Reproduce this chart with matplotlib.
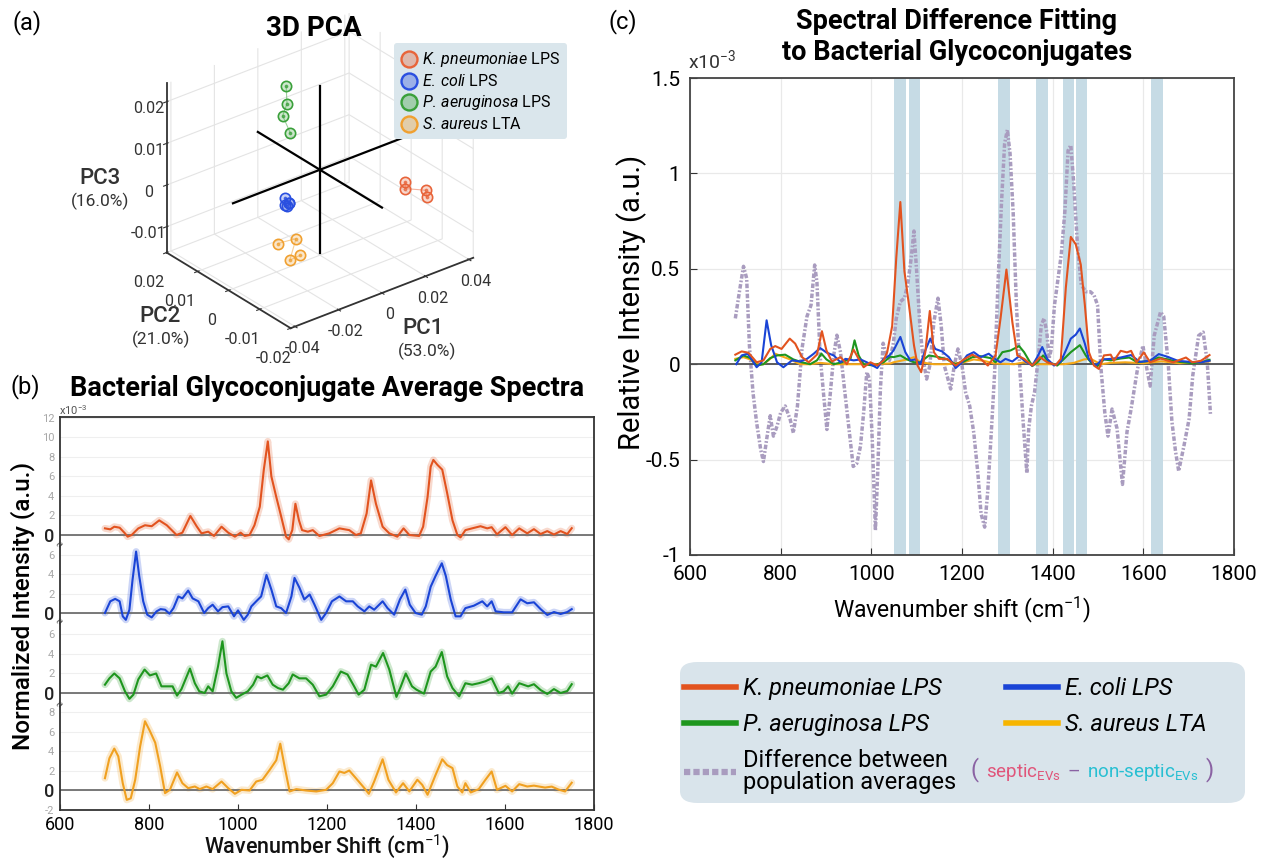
import matplotlib
matplotlib.use('Agg')
import matplotlib.pyplot as plt
import numpy as np
from matplotlib.lines import Line2D
from matplotlib.colors import to_rgba
from matplotlib.ticker import FuncFormatter
from matplotlib.patches import FancyBboxPatch
from matplotlib.offsetbox import TextArea, HPacker, AnchoredOffsetbox

plt.rcParams['font.family'] = ['Roboto', 'DejaVu Sans']
plt.rcParams['axes.unicode_minus'] = False
plt.rcParams['mathtext.fontset'] = 'custom'
plt.rcParams['mathtext.rm'] = 'Roboto'
plt.rcParams['mathtext.it'] = 'Roboto:italic'
plt.rcParams['mathtext.bf'] = 'Roboto:bold'

W, H = 1263, 858


def fx(x):
    return x / W


def fy(y):
    return 1 - y / H


# ---------------- data: (a) 3D PCA scores ----------------
species = ['K. pneumoniae', 'E. coli', 'P. aeruginosa', 'S. aureus']
suffix = ['LPS', 'LPS', 'LPS', 'LTA']
pca_pc1 = [[0.025, 0.025, 0.0344, 0.0348],
           [-0.0085, -0.0075, -0.008, -0.009, -0.0078],
           [-0.0084, -0.008, -0.010, -0.0065],
           [-0.0265, -0.0181, -0.021, -0.0163]]
pca_pc2 = [[-0.010, -0.010, -0.010, -0.010],
           [0.004, 0.006, 0.005, 0.005, 0.0045],
           [0.005, 0.005, 0.005, 0.005],
           [-0.005, -0.005, -0.005, -0.005]]
pca_pc3 = [[0.0008, -0.0007, -0.0030, -0.0048],
           [-0.0039, -0.0037, -0.0050, -0.0045, -0.0042],
           [0.0239, 0.0195, 0.0170, 0.0122],
           [-0.0058, -0.0063, -0.0109, -0.0107]]
pc_ticks1 = [-0.04, -0.02, 0, 0.02, 0.04]
pc_ticks2 = [-0.02, -0.01, 0, 0.01, 0.02]
pc_ticks3 = [-0.01, 0, 0.01, 0.02]
cross_center = [0.0, 0.0, 0.0043]
cross_half = [0.04, 0.02, 0.02]

# ---------------- data: (b) average spectra (x1e-3) ----------------
bK = [(701, 0.68), (713, 0.58), (722, 0.85), (734, 0.75), (746, 0.17), (752, -0.17), (761, 0), (776, 0.68),
      (791, 1.0), (806, 0.9), (823, 1.5), (840, 1.0), (862, 0), (875, 0.24), (893, 1.95), (907, 0.9),
      (918, 0.17), (933, 0.34), (946, -0.1), (963, 0.85), (978, 0.24), (993, -0.17), (1006, 0.24),
      (1015, -0.1), (1026, 0), (1037, 1.0), (1049, 2.9), (1058, 6.7), (1067, 9.6), (1075, 6.0),
      (1086, 3.9), (1097, 1.9), (1108, -0.17), (1114, -0.45), (1122, 0.5), (1129, 3.2), (1137, 1.5),
      (1144, 0.5), (1157, 0.34), (1168, 0.5), (1183, -0.1), (1205, 0.17), (1228, 0.68), (1250, 0.5),
      (1265, 0), (1276, 0.17), (1289, 2.2), (1299, 5.6), (1310, 3.2), (1325, 0.85), (1340, 0.17),
      (1358, -0.17), (1372, 0.68), (1385, 0), (1407, -0.1), (1416, 0.85), (1426, 3.9), (1433, 7.0),
      (1439, 7.7), (1448, 7.2), (1459, 6.7), (1470, 4.3), (1482, 1.5), (1493, 0), (1500, -0.24),
      (1511, 0.5), (1526, 0.68), (1545, 0.9), (1560, 0.68), (1570, 0.8), (1582, 0.07), (1601, 0.8),
      (1616, 0), (1632, 0.68), (1650, 0.17), (1665, 0.6), (1680, 0.1), (1695, 0.4), (1710, 0.05),
      (1725, 0.4), (1740, 0.1), (1750, 0.7)]
bE = [(701, 0), (713, 1.2), (724, 1.45), (734, 1.2), (741, -0.34), (748, -0.7), (756, 0.34), (763, 3.4),
      (771, 6.3), (778, 3.8), (787, 1.2), (796, -0.17), (806, -0.45), (817, 0.17), (826, 0.4), (836, 0.34),
      (846, -0.07), (855, 0.5), (866, 1.7), (875, 1.5), (888, 2.3), (898, 1.5), (911, 1.2), (924, 0),
      (933, 0.5), (943, 0.85), (955, 0.17), (965, 0.6), (978, 0.68), (991, -0.34), (1000, 0.27),
      (1013, -0.7), (1022, -0.17), (1030, 0.68), (1041, 1.2), (1052, 1.7), (1064, 3.9), (1075, 2.4),
      (1086, 0.68), (1097, 0.5), (1108, 0), (1120, 1.7), (1127, 3.6), (1138, 2.6), (1149, 1.4),
      (1161, 1.9), (1172, 0.85), (1187, -0.7), (1198, 0), (1211, 1.2), (1228, 1.7), (1243, 1.2),
      (1258, 1.2), (1269, 0.68), (1284, 0.17), (1295, 0.68), (1306, 0.34), (1325, 1.2), (1336, 0.5),
      (1351, -0.17), (1364, 1.4), (1376, 2.4), (1386, 0.85), (1399, 0), (1413, -0.17), (1422, 0.68),
      (1433, 2.7), (1444, 3.8), (1458, 5.1), (1467, 3.8), (1478, 1.4), (1489, -0.34), (1500, -0.34),
      (1511, 0.5), (1530, 0.75), (1549, 1.2), (1560, 0.68), (1570, 1.2), (1579, 0.17), (1597, 0.07),
      (1616, 0.07), (1635, 1.4), (1650, 1.0), (1665, 1.1), (1680, 0.4), (1695, -0.2), (1710, 0.1),
      (1725, -0.1), (1740, 0.1), (1750, 0.4)]
bP = [(701, 0.85), (711, 1.5), (722, 2.0), (734, 1.5), (746, 0.17), (756, -0.6), (765, -0.17), (776, 1.4),
      (790, 2.4), (802, 1.8), (816, 2.0), (828, 0.68), (840, 0.68), (853, 0.68), (863, -0.27), (873, 0.4),
      (892, 2.5), (903, 1.0), (913, 0.17), (925, 0), (933, 0.68), (943, 0.17), (955, 2.7), (965, 5.3),
      (974, 2.0), (985, 0.17), (996, -0.5), (1008, -0.17), (1022, 0.17), (1034, 0.85), (1043, 1.7),
      (1052, 1.5), (1066, 1.8), (1078, 0.85), (1090, 0.5), (1101, 0.34), (1114, 1.0), (1123, 1.9),
      (1138, 1.5), (1153, 1.5), (1168, 0.85), (1183, -0.34), (1198, -0.17), (1213, 0.68), (1231, 2.2),
      (1246, 1.9), (1261, 0.68), (1271, -0.17), (1284, 0.34), (1299, 2.9), (1310, 2.7), (1326, 4.1),
      (1340, 2.4), (1356, -0.4), (1366, 0.68), (1377, 2.0), (1391, 0.68), (1401, 0.34), (1418, -0.07),
      (1433, 2.2), (1444, 2.7), (1458, 4.2), (1470, 1.7), (1482, 0.5), (1497, -0.34), (1511, 1.0),
      (1526, 0.85), (1541, 1.0), (1556, 1.2), (1570, 1.5), (1586, 0), (1597, 0.17), (1607, 0.68),
      (1616, -0.07), (1632, 1.0), (1652, 0.68), (1665, 0.9), (1680, 0.3), (1695, -0.1), (1710, 0.4),
      (1725, 0.0), (1740, 0.2), (1750, 0.9)]
bS = [(701, 1.26), (711, 3.3), (722, 4.3), (731, 3.5), (741, 0.75), (750, -0.96), (759, -0.8), (769, 1.1),
      (780, 4.5), (791, 7.1), (802, 6.1), (814, 4.9), (825, 2.5), (836, -0.27), (847, 0.07), (863, 1.85),
      (875, 0.75), (888, 0.24), (903, 0.41), (914, 0.14), (929, 0.41), (943, 0.14), (963, 0.92),
      (978, 0.24), (993, -0.34), (1008, 0.07), (1026, 0), (1041, 0.92), (1055, 1.1), (1071, 2.1),
      (1086, 3.1), (1095, 4.8), (1105, 2.4), (1116, -0.1), (1131, 0.14), (1153, 0), (1176, -0.1),
      (1198, 0.07), (1213, 0.75), (1228, 1.95), (1239, 1.8), (1250, 2.05), (1265, 1.26), (1284, 0.24),
      (1294, -0.34), (1306, 0.92), (1325, 3.2), (1338, 1.1), (1355, -0.2), (1371, 0.75), (1385, -0.1),
      (1403, 1.1), (1414, 0.58), (1426, -0.44), (1444, 1.6), (1459, 3.2), (1470, 2.6), (1482, 2.3),
      (1493, 0.41), (1504, -0.2), (1511, 0.75), (1523, -0.2), (1541, 0.14), (1556, 1.1), (1570, 1.95),
      (1582, 0.07), (1601, 0.48), (1616, -0.1), (1632, 0.65), (1650, 0.41), (1665, 0.5), (1690, 0.3),
      (1705, 0.4), (1720, 0.1), (1735, -0.1), (1750, 0.8)]
b_offsets = [26.2, 18.2, 10.0, 0.0]
b_tick_vals = [[0, 2, 4, 6, 8, 10, 12], [0, 2, 4, 6], [0, 2, 4, 6], [-2, 0, 2, 4, 6, 8]]
b_breaks = [25.2, 17.3, 8.8]

# ---------------- data: (c) spectral difference fitting (x1e-3) ----------------
cK = [(700, 0.05), (714, 0.067), (729, 0.06), (747, 0.01), (762, 0.02), (777, 0.08), (788, 0.095), (802, 0.08),
      (820, 0.134), (832, 0.108), (847, 0.037), (862, 0.01), (880, 0.05), (891, 0.173), (901, 0.072),
      (913, 0.014), (932, 0.037), (946, 0), (961, 0.076), (972, 0.028), (983, -0.016), (998, 0.01),
      (1013, -0.007), (1027, 0.02), (1035, 0.063), (1046, 0.2), (1055, 0.557), (1064, 0.85), (1073, 0.487),
      (1083, 0.31), (1094, 0.1), (1102, -0.007), (1110, -0.042), (1119, 0.063), (1129, 0.279), (1138, 0.063),
      (1149, 0.028), (1167, 0.028), (1186, -0.007), (1204, 0.025), (1223, 0.05), (1241, 0.028),
      (1257, -0.007), (1274, 0.046), (1285, 0.24), (1298, 0.496), (1311, 0.222), (1322, 0.046),
      (1337, 0.028), (1355, -0.007), (1372, 0.037), (1388, 0.01), (1407, -0.004), (1418, 0.028),
      (1429, 0.4), (1440, 0.667), (1451, 0.628), (1462, 0.522), (1471, 0.31), (1480, 0.063),
      (1491, -0.007), (1502, -0.025), (1513, 0.046), (1528, 0.05), (1535, 0.018), (1550, 0.07),
      (1564, 0.062), (1573, 0.07), (1585, 0.01), (1601, 0.062), (1615, 0.01), (1638, 0.03), (1666, 0.01),
      (1694, 0.035), (1708, 0.01), (1727, 0.018), (1746, 0.048)]
cE = [(702, 0), (714, 0.046), (727, 0.055), (736, 0.025), (747, -0.016), (758, 0.01), (769, 0.23), (779, 0.1),
      (792, 0.01), (806, -0.016), (825, 0.02), (843, 0.014), (858, 0.028), (873, 0.055), (887, 0.085),
      (902, 0.06), (917, 0.046), (932, 0.01), (943, 0.028), (961, 0.02), (976, 0.025), (990, 0.01),
      (1013, -0.02), (1027, 0.028), (1040, 0.046), (1049, 0.072), (1064, 0.143), (1075, 0.063),
      (1086, 0.02), (1097, 0.025), (1108, 0), (1119, 0.072), (1130, 0.134), (1141, 0.08), (1156, 0.067),
      (1171, 0.037), (1186, -0.02), (1200, 0.01), (1211, 0.046), (1226, 0.063), (1241, 0.037),
      (1259, 0.055), (1274, 0.025), (1285, 0.01), (1296, 0.028), (1311, 0.014), (1326, 0.042),
      (1340, 0.014), (1355, -0.007), (1366, 0.037), (1377, 0.09), (1388, 0.028), (1403, -0.007),
      (1418, 0.014), (1429, 0.072), (1440, 0.134), (1451, 0.155), (1460, 0.187), (1471, 0.108),
      (1480, 0.025), (1495, -0.007), (1510, 0.025), (1528, 0.028), (1550, 0.035), (1573, 0.048),
      (1592, 0.012), (1615, 0.018), (1634, 0.053), (1652, 0.04), (1676, 0.018), (1704, 0.012),
      (1727, 0.01), (1746, 0.018)]
cP = [(700, 0.02), (718, 0.046), (733, 0.032), (747, -0.007), (762, 0), (777, 0.032), (792, 0.046), (810, 0.05),
      (828, 0.025), (847, 0.01), (865, 0), (880, 0.02), (890, 0.055), (901, 0.025), (917, 0), (935, 0.01),
      (954, 0.028), (963, 0.125), (972, 0.046), (983, 0), (1005, -0.007), (1027, 0.01), (1042, 0.04),
      (1049, 0.037), (1064, 0.046), (1079, 0.025), (1094, 0.01), (1108, 0.01), (1127, 0.046),
      (1149, 0.037), (1167, 0.025), (1186, 0), (1204, 0.014), (1223, 0.037), (1241, 0.042),
      (1263, 0.032), (1274, 0.01), (1289, 0.063), (1307, 0.072), (1326, 0.095), (1337, 0.063),
      (1355, -0.01), (1366, 0.01), (1379, 0.046), (1392, 0.01), (1410, -0.007), (1425, 0.028),
      (1440, 0.063), (1460, 0.1), (1473, 0.046), (1484, 0.01), (1499, -0.01), (1513, 0.025),
      (1528, 0.02), (1550, 0.03), (1569, 0.035), (1587, 0.01), (1615, 0.018), (1634, 0.035),
      (1657, 0.023), (1680, 0.012), (1708, 0.005), (1727, 0.01), (1746, 0.023)]
cS = [(700, 0.028), (718, 0.037), (733, 0.025), (747, 0), (762, 0), (777, 0.028), (788, 0.055), (802, 0.042),
      (821, 0.025), (843, 0), (865, 0), (887, 0.007), (917, 0), (946, 0), (976, 0), (1005, 0), (1042, 0.004),
      (1049, 0.01), (1079, 0.025), (1094, 0.037), (1108, 0.01), (1138, 0), (1167, 0), (1204, 0.01),
      (1226, 0.025), (1248, 0.018), (1270, 0.004), (1315, 0), (1337, 0.01), (1359, 0), (1388, 0),
      (1425, 0), (1447, 0.007), (1469, 0.025), (1484, 0.028), (1506, 0), (1528, 0.007), (1560, 0.01),
      (1600, 0.005), (1640, 0.015), (1680, 0.005), (1720, 0.01), (1746, 0.015)]
cDiff = [(700, 0.24), (709, 0.38), (718, 0.513), (725, 0.45), (731, 0.1), (739, -0.15), (747, -0.307),
         (756, -0.448), (762, -0.51), (769, -0.395), (777, -0.27), (784, -0.377), (792, -0.325),
         (800, -0.254), (810, -0.219), (821, -0.29), (828, -0.36), (837, -0.22), (847, 0.08), (858, 0.25),
         (867, 0.31), (875, 0.52), (880, 0.43), (887, 0.046), (895, -0.166), (902, -0.342), (909, -0.166),
         (917, 0.046), (924, 0.152), (932, 0.063), (940, -0.113), (950, -0.325), (960, -0.536),
         (968, -0.52), (976, -0.43), (983, -0.254), (990, -0.042), (996, -0.078), (1002, -0.395),
         (1009, -0.871), (1014, -0.571), (1020, -0.13), (1026, 0.11), (1033, 0.05), (1040, 0.02),
         (1048, 0.1), (1055, 0.24), (1064, 0.328), (1073, 0.346), (1080, 0.416), (1088, 0.557),
         (1094, 0.698), (1100, 0.487), (1107, 0.205), (1114, 0.028), (1122, -0.078), (1129, -0.007),
         (1138, 0.222), (1147, 0.346), (1154, 0.205), (1161, -0.007), (1169, -0.078), (1175, -0.13),
         (1183, -0.007), (1191, 0.08), (1200, -0.007), (1208, -0.148), (1217, -0.219), (1226, -0.36),
         (1235, -0.571), (1242, -0.783), (1250, -0.854), (1257, -0.66), (1265, -0.342), (1272, -0.042),
         (1279, 0.4), (1287, 0.84), (1294, 1.157), (1300, 1.228), (1306, 1.104), (1313, 0.787),
         (1320, 0.31), (1328, -0.042), (1335, -0.307), (1343, -0.571), (1347, -0.342), (1353, -0.219),
         (1360, -0.148), (1368, 0.028), (1375, 0.205), (1381, 0.24), (1387, 0.17), (1392, 0.028),
         (1397, 0.08), (1404, 0.31), (1412, 0.45), (1419, 0.575), (1427, 0.804), (1434, 1.12),
         (1440, 1.148), (1446, 0.963), (1455, 0.61), (1463, 0.416), (1473, 0.38), (1483, 0.38),
         (1491, 0.363), (1499, 0.31), (1506, -0.007), (1515, -0.254), (1522, -0.377), (1531, -0.235),
         (1542, -0.337), (1554, -0.63), (1564, -0.354), (1573, -0.235), (1587, -0.027), (1599, 0.097),
         (1608, -0.027), (1615, -0.115), (1624, 0.15), (1638, 0.274), (1645, 0.25), (1655, 0.0),
         (1663, -0.3), (1671, -0.457), (1678, -0.56), (1690, -0.423), (1701, -0.286), (1709, -0.06),
         (1722, 0.15), (1732, 0.168), (1741, 0.01), (1748, -0.26)]
band_lo = [1051, 1082, 1280, 1364, 1423, 1452, 1618]
band_hi = [1076, 1107, 1305, 1390, 1448, 1475, 1643]

# colours
pca_cols = ['#e8643a', '#2a4fe0', '#3aa03a', '#f0a030']
spec_cols = ['#e2531f', '#1a44d6', '#1e961e', '#f0a020']
fit_cols = ['#e2531f', '#1a44d6', '#1e961e', '#f5a818']
diff_col = '#a99cbf'
dark = '#333333'

fig = plt.figure(figsize=(W / 100, H / 100), dpi=100)

# ======================= (a) 3D PCA =======================
ax3 = fig.add_axes([fx(115), fy(357), (515 - 115) / W, (357 + 6) / H], projection='3d')
ax3.set_proj_type('ortho')
ax3.view_init(elev=29, azim=-128.5)
ax3.set_box_aspect((1.17, 1.0, 0.97), zoom=0.97)
for axis in (ax3.xaxis, ax3.yaxis, ax3.zaxis):
    axis.set_pane_color((1, 1, 1, 0))
    axis.pane.set_edgecolor('#e2e2e2')
    axis._axinfo['grid'].update(color='#e4e4e4', linewidth=0.8)
    axis.line.set_color(dark)
    axis.line.set_linewidth(1.3)
    axis.set_major_formatter(FuncFormatter(lambda v, p: f'{v:g}'))
ax3.set_xlim(-0.042, 0.042)
ax3.set_ylim(-0.02, 0.02)
ax3.set_zlim(-0.0162, 0.0244)
ax3.set_xticks(pc_ticks1)
ax3.set_yticks(pc_ticks2)
ax3.set_zticks(pc_ticks3)
ax3.tick_params(labelsize=11.5, colors=dark, pad=0)
ax3.yaxis.set_tick_params(pad=5)

cx, cy, cz = cross_center
ax3.plot([cx - cross_half[0], cx + cross_half[0]], [cy, cy], [cz, cz], color='black', lw=1.6)
ax3.plot([cx, cx], [cy - cross_half[1], cy + cross_half[1]], [cz, cz], color='black', lw=1.6)
ax3.plot([cx, cx], [cy, cy], [cz - cross_half[2], cz + cross_half[2]], color='black', lw=1.6)

leg_handles = []
for i in range(4):
    col = pca_cols[i]
    ax3.plot(pca_pc1[i], pca_pc2[i], pca_pc3[i], color=col, lw=0.8, alpha=0.5)
    ax3.scatter(pca_pc1[i], pca_pc2[i], pca_pc3[i], s=55, facecolors=[to_rgba(col, 0.25)],
                edgecolors=[col], linewidths=1.2, depthshade=False)
    ax3.scatter(pca_pc1[i], pca_pc2[i], pca_pc3[i], s=3, color=col, alpha=0.7, depthshade=False)
    leg_handles.append(Line2D([], [], ls='none', marker='o', markersize=11.5,
                              markerfacecolor=to_rgba(col, 0.35), markeredgecolor=col,
                              markeredgewidth=1.7))

leg_labels = [r'$\it{' + s.replace(' ', r'\,') + '}$ ' + suf for s, suf in zip(species, suffix)]
leg_a = fig.legend(leg_handles, leg_labels, loc='upper left', bbox_to_anchor=(fx(394), fy(43)),
                   frameon=True, fancybox=True, facecolor='#dae6ec', edgecolor='none', framealpha=1,
                   fontsize=11.5, handletextpad=0.3, borderpad=0.45, labelspacing=0.25,
                   handlelength=1.0, borderaxespad=0)

fig.text(fx(27), fy(23), '(a)', fontsize=17, va='center', ha='center')
fig.text(fx(314), fy(28), '3D PCA', fontsize=20, fontweight='bold', va='center', ha='center')
fig.text(fx(100), fy(179), 'PC3', fontsize=16, fontweight='medium', color=dark, ha='center', va='center')
fig.text(fx(100), fy(201), '(16.0%)', fontsize=12.5, color=dark, ha='center', va='center')
fig.text(fx(160), fy(317), 'PC2', fontsize=16, fontweight='medium', color=dark, ha='center', va='center')
fig.text(fx(161), fy(339), '(21.0%)', fontsize=12.5, color=dark, ha='center', va='center')
fig.text(fx(423), fy(328), 'PC1', fontsize=16, fontweight='medium', color=dark, ha='center', va='center')
fig.text(fx(427), fy(351), '(53.0%)', fontsize=12.5, color=dark, ha='center', va='center')

# ======================= (b) average spectra =======================
axb = fig.add_axes([fx(60), fy(810), (594 - 60) / W, (810 - 417) / H])
for data, col, off in zip([bK, bE, bP, bS], spec_cols, b_offsets):
    x = np.array([p[0] for p in data])
    y = np.array([p[1] for p in data]) + off
    axb.plot(x, y, color=col, lw=5, alpha=0.22, solid_capstyle='round', solid_joinstyle='round')
    axb.plot(x, y, color=col, lw=1.5, zorder=3)
    axb.axhline(off, color='#6e6e6e', lw=1.3, zorder=2)
axb.set_xlim(600, 1800)
axb.set_ylim(-2, 38.3)
axb.set_xticks(range(600, 1801, 200))
yt, yl = [], []
for off, vals in zip(b_offsets, b_tick_vals):
    for v in vals:
        yt.append(off + v)
        yl.append(str(v))
axb.set_yticks(yt)
axb.set_yticklabels(yl)
for lab in axb.get_yticklabels():
    if lab.get_text() == '0':
        lab.set_fontsize(13)
        lab.set_color('#222222')
        lab.set_fontweight('medium')
    else:
        lab.set_fontsize(8)
        lab.set_color('#a8a8a8')
axb.yaxis.grid(True, color='#efefef', lw=0.8)
axb.set_axisbelow(True)
axb.tick_params(axis='y', length=0, pad=4)
axb.tick_params(axis='x', direction='in', length=4, labelsize=13, color=dark, pad=4)
for s in axb.spines.values():
    s.set_color(dark)
    s.set_linewidth(1.3)
for yb in b_breaks:
    axb.text(600, yb, '≈', rotation=60, fontsize=8, ha='center', va='center', color=dark,
             clip_on=False, zorder=5)
axb.set_xlabel('Wavenumber Shift (cm$^{-1}$)', fontsize=15.5, fontweight='medium')
axb.xaxis.label.set_va('center')
axb.xaxis.set_label_coords(0.5, -0.091)
axb.set_ylabel('Normalized Intensity (a.u.)', fontsize=17.5, fontweight='medium')
axb.yaxis.label.set_va('center')
axb.yaxis.set_label_coords(-0.069, 0.519)
axb.xaxis.label.set_color('#111111')
fig.text(fx(73), fy(410), r'x10$^{-3}$', fontsize=8, color='#555555', ha='center', va='center')
fig.text(fx(25), fy(387), '(b)', fontsize=17, va='center', ha='center')
fig.text(fx(327), fy(388), 'Bacterial Glycoconjugate Average Spectra', fontsize=19.5, fontweight='bold',
         va='center', ha='center')

# ======================= (c) spectral difference fitting =======================
axc = fig.add_axes([fx(690), fy(555), (1234 - 690) / W, (555 - 78) / H])
for lo, hi in zip(band_lo, band_hi):
    axc.axvspan(lo, hi, color='#c6dbe5', lw=0, zorder=1)
dash_style = (0, (1.3, 0.55, 0.5, 0.55))
xd = [p[0] for p in cDiff]
yd = [p[1] for p in cDiff]
axc.plot(xd, yd, color=diff_col, lw=2.5, ls=dash_style, zorder=2)
for data, col in zip([cS, cP, cE, cK], fit_cols[::-1]):
    axc.plot([p[0] for p in data], [p[1] for p in data], color=col, lw=1.5, zorder=3)
axc.axhline(0, color='#505050', lw=1.3, zorder=2.5)
axc.set_xlim(600, 1800)
axc.set_ylim(-1, 1.5)
axc.set_xticks(range(600, 1801, 200))
axc.set_yticks([-1, -0.5, 0, 0.5, 1, 1.5])
axc.set_yticklabels(['-1', '-0.5', '0', '0.5', '1', '1.5'])
axc.grid(True, color='#e9e9e9', lw=0.9, zorder=0)
axc.set_axisbelow(True)
axc.tick_params(direction='in', length=5, labelsize=15, color=dark, pad=7)
for s in axc.spines.values():
    s.set_color('#444444')
    s.set_linewidth(1.3)
axc.set_xlabel('Wavenumber shift (cm$^{-1}$)', fontsize=16.5)
axc.xaxis.label.set_va('center')
axc.xaxis.set_label_coords(0.5, -0.115)
axc.set_ylabel('Relative Intensity (a.u.)', fontsize=21)
axc.yaxis.label.set_va('center')
axc.yaxis.set_label_coords(-0.107, 0.53)
fig.text(fx(712), fy(60), r'x10$^{-3}$', fontsize=14, color=dark, ha='center', va='center')
fig.text(fx(623), fy(22), '(c)', fontsize=17, va='center', ha='center')
fig.text(fx(957), fy(37), 'Spectral Difference Fitting\nto Bacterial Glycoconjugates', fontsize=19.5,
         fontweight='bold', va='center', ha='center', linespacing=1.2)

# legend for (c): rounded panel + legend entries + coloured formula
panel = FancyBboxPatch((fx(680), fy(803)), (1245 - 680) / W, (803 - 662) / H,
                       boxstyle='round,pad=0,rounding_size=0.014', transform=fig.transFigure,
                       facecolor='#d9e4eb', edgecolor='none', zorder=0.5)
fig.patches.append(panel)
lk = Line2D([], [], color=fit_cols[0], lw=4)
le = Line2D([], [], color=fit_cols[1], lw=4)
lp = Line2D([], [], color=fit_cols[2], lw=4)
ls_ = Line2D([], [], color='#f7b500', lw=4)
ld = Line2D([], [], color=diff_col, lw=4.5, ls=(0, (1.0, 0.5)))
leg_c = fig.legend([lk, lp, ld, le, ls_],
                   ['K. pneumoniae LPS', 'P. aeruginosa LPS', 'Difference between\npopulation averages',
                    'E. coli LPS', 'S. aureus LTA'],
                   loc='upper left', ncol=2, bbox_to_anchor=(fx(684), fy(677)),
                   frameon=False, prop={'family': 'Roboto', 'size': 17, 'style': 'italic'},
                   handlelength=2.2, handletextpad=0.3, labelspacing=0.55, columnspacing=2.1,
                   borderpad=0, borderaxespad=0)
leg_c.get_texts()[2].set_fontstyle('normal')
leg_c.get_texts()[2].set_linespacing(0.95)

purple = '#8a62a3'
pieces = [TextArea('(', textprops=dict(color=purple, fontsize=17)),
          TextArea(r'septic$_{\mathrm{EVs}}$', textprops=dict(color='#e0557a', fontsize=13.5)),
          TextArea('–', textprops=dict(color=purple, fontsize=14)),
          TextArea(r'non-septic$_{\mathrm{EVs}}$', textprops=dict(color='#27bfd2', fontsize=13.5)),
          TextArea(')', textprops=dict(color=purple, fontsize=17))]
pack = HPacker(children=pieces, align='baseline', pad=0, sep=5)
anch = AnchoredOffsetbox(loc='center left', child=pack, frameon=False, pad=0, borderpad=0,
                         bbox_to_anchor=(fx(971), fy(770)), bbox_transform=fig.transFigure)
anch.set_zorder(10)
fig.add_artist(anch)

fig.savefig('out.png', dpi=100)
